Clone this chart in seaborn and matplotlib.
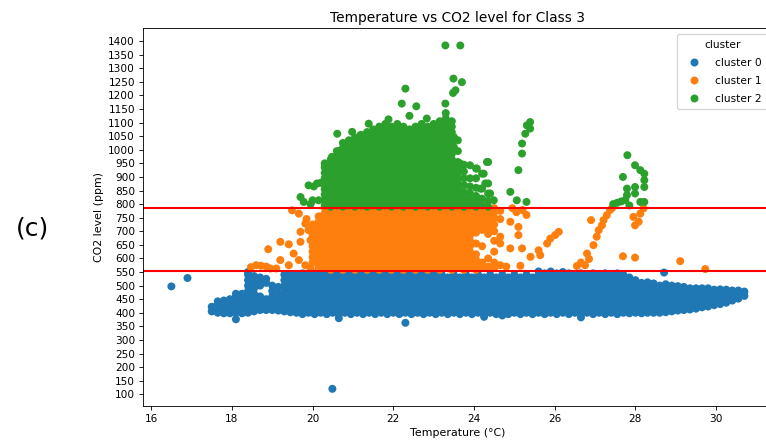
import matplotlib
matplotlib.use("Agg")
import matplotlib.pyplot as plt
import pandas as pd
import seaborn as sns

# Readings grouped by temperature (°C): each key holds the CO2 values (ppm) logged at it.
cluster0_columns = {
    17.50: [405, 422],
    17.65: [400, 415, 432, 442],
    17.80: [398, 420, 445],
    17.95: [398, 412, 430, 450],
    18.10: [376, 400, 420, 440, 460, 470],
    18.25: [398, 410, 430, 450, 470],
    18.40: [400, 420, 440, 460, 480, 500, 520, 540, 550],
    18.55: [405, 430, 450, 470, 490, 510, 535],
    18.70: [410, 420, 440, 460, 500, 520, 530],
    18.85: [410, 430, 450, 510, 525],
    19.00: [410, 420, 440, 460, 480, 500],
    19.15: [408, 430, 450, 470, 495],
    19.30: [405, 420, 440, 460, 480, 500, 520, 540],
    19.45: [402, 410, 430, 450, 470, 490, 510, 530, 542],
    19.60: [400, 420, 440, 460, 480, 500, 520, 540],
    19.75: [395, 410, 430, 450, 470, 490, 510, 530, 545],
    19.90: [400, 420, 440, 460, 480, 500, 520, 540],
    20.05: [395, 410, 430, 450, 470, 490, 510, 530, 545],
    20.20: [400, 420, 440, 460, 480, 500, 520, 540],
    20.35: [395, 410, 430, 450, 470, 490, 510, 530, 545],
    20.50: [400, 420, 440, 460, 480, 500, 520, 540],
    20.65: [380, 395, 410, 430, 450, 470, 490, 510, 530, 545],
    20.80: [400, 420, 440, 460, 480, 500, 520, 540],
    20.95: [395, 410, 430, 450, 470, 490, 510, 530, 545],
    21.10: [400, 420, 440, 460, 480, 500, 520, 540],
    21.25: [395, 410, 430, 450, 470, 490, 510, 530, 545],
    21.40: [400, 420, 440, 460, 480, 500, 520, 540],
    21.55: [395, 410, 430, 450, 470, 490, 510, 530, 545],
    21.70: [400, 420, 440, 460, 480, 500, 520, 540],
    21.85: [395, 410, 430, 450, 470, 490, 510, 530, 545],
    22.00: [400, 420, 440, 460, 480, 500, 520, 540],
    22.15: [395, 410, 430, 450, 470, 490, 510, 530, 545],
    22.30: [363, 400, 420, 440, 460, 480, 500, 520, 540],
    22.45: [395, 410, 430, 450, 470, 490, 510, 530, 545],
    22.60: [400, 420, 440, 460, 480, 500, 520, 540],
    22.75: [395, 410, 430, 450, 470, 490, 510, 530, 545],
    22.90: [400, 420, 440, 460, 480, 500, 520, 540],
    23.05: [395, 410, 430, 450, 470, 490, 510, 530, 545],
    23.20: [400, 420, 440, 460, 480, 500, 520, 540],
    23.35: [395, 410, 430, 450, 470, 490, 510, 530],
    23.50: [400, 420, 440, 460, 480, 500, 520, 540],
    23.65: [395, 410, 430, 450, 470, 490, 510, 530],
    23.80: [400, 420, 440, 460, 480, 500, 520, 540],
    23.95: [395, 410, 430, 450, 470, 490, 510, 530],
    24.10: [400, 420, 440, 460, 480, 500, 520, 540],
    24.25: [385, 395, 410, 430, 450, 470, 490, 510, 530],
    24.40: [400, 420, 440, 460, 480, 500, 520, 540],
    24.55: [395, 410, 430, 450, 470, 490, 510, 530],
    24.70: [390, 400, 420, 440, 460, 480, 500, 520, 540],
    24.85: [395, 410, 430, 450, 470, 490, 510, 530],
    25.00: [400, 420, 440, 460, 480, 500, 520, 540],
    25.15: [395, 410, 430, 450, 470, 490, 510, 530],
    25.30: [400, 420, 440, 460, 480, 500, 520, 540],
    25.45: [395, 410, 430, 450, 470, 490, 510, 530],
    25.60: [400, 420, 440, 460, 480, 500, 520, 540, 552],
    25.75: [395, 410, 430, 450, 470, 490, 510, 530, 545],
    25.90: [400, 420, 440, 460, 480, 500, 520, 540, 552],
    26.05: [395, 410, 430, 450, 470, 490, 510, 530, 545],
    26.20: [400, 420, 440, 460, 480, 500, 520, 540, 550],
    26.35: [395, 410, 430, 450, 470, 490, 510, 530, 545],
    26.50: [400, 420, 440, 460, 480, 500, 520, 540],
    26.65: [383, 395, 410, 430, 450, 470, 490, 510, 530, 545],
    26.80: [400, 420, 440, 460, 480, 500, 520, 540],
    26.95: [395, 410, 430, 450, 470, 490, 510, 530, 545],
    27.10: [400, 420, 440, 460, 480, 500, 520, 540],
    27.25: [395, 410, 430, 450, 470, 490, 510, 530, 545],
    27.40: [400, 420, 440, 460, 480, 500, 520, 540],
    27.55: [395, 410, 430, 450, 470, 490, 510, 530, 545],
    27.70: [400, 420, 440, 460, 480, 500, 520, 540],
    27.85: [398, 410, 430, 450, 470, 490, 510, 530],
    28.00: [400, 420, 440, 460, 480, 500, 520],
    28.15: [398, 410, 430, 450, 470, 490, 510],
    28.30: [400, 420, 440, 460, 480, 500, 512],
    28.45: [400, 410, 430, 450, 470, 490, 508],
    28.60: [400, 420, 440, 460, 480, 500],
    28.75: [402, 410, 430, 450, 470, 490, 505],
    28.90: [405, 420, 440, 460, 480, 500],
    29.05: [408, 430, 450, 470, 490, 498],
    29.20: [410, 420, 440, 460, 480, 495],
    29.35: [412, 430, 450, 470, 490],
    29.50: [415, 430, 450, 470, 490],
    29.65: [420, 440, 460, 480, 490],
    29.80: [423, 440, 460, 480, 490],
    29.95: [428, 445, 465, 485],
    30.10: [432, 450, 470, 486],
    30.25: [437, 455, 470, 485],
    30.40: [445, 465, 482],
    30.55: [452, 468, 482],
    30.70: [462, 478],
}
cluster0_points = [(16.5, 497), (16.9, 528), (20.49, 120), (28.71, 548)]

cluster1_columns = {
    20.00: [585, 605, 625, 645, 665, 685, 705, 725],
    20.15: [565, 575, 595, 615, 635, 655, 675, 695, 715, 735, 755],
    20.30: [565, 585, 605, 625, 645, 665, 685, 705, 725, 745, 765, 785],
    20.45: [558, 575, 595, 615, 635, 655, 675, 695, 715, 735, 755, 775],
    20.60: [565, 585, 605, 625, 645, 665, 685, 705, 725, 745, 765, 785],
    20.75: [558, 575, 595, 615, 635, 655, 675, 695, 715, 735, 755, 775],
    20.90: [565, 585, 605, 625, 645, 665, 685, 705, 725, 745, 765, 785],
    21.05: [558, 575, 595, 615, 635, 655, 675, 695, 715, 735, 755, 775],
    21.20: [565, 585, 605, 625, 645, 665, 685, 705, 725, 745, 765, 785],
    21.35: [558, 575, 595, 615, 635, 655, 675, 695, 715, 735, 755, 775],
    21.50: [565, 585, 605, 625, 645, 665, 685, 705, 725, 745, 765, 785],
    21.65: [558, 575, 595, 615, 635, 655, 675, 695, 715, 735, 755, 775],
    21.80: [565, 585, 605, 625, 645, 665, 685, 705, 725, 745, 765, 785],
    21.95: [558, 575, 595, 615, 635, 655, 675, 695, 715, 735, 755, 775],
    22.10: [565, 585, 605, 625, 645, 665, 685, 705, 725, 745, 765, 785],
    22.25: [558, 575, 595, 615, 635, 655, 675, 695, 715, 735, 755, 775],
    22.40: [565, 585, 605, 625, 645, 665, 685, 705, 725, 745, 765, 785],
    22.55: [558, 575, 595, 615, 635, 655, 675, 695, 715, 735, 755, 775],
    22.70: [565, 585, 605, 625, 645, 665, 685, 705, 725, 745, 765, 785],
    22.85: [558, 575, 595, 615, 635, 655, 675, 695, 715, 735, 755, 775],
    23.00: [565, 585, 605, 625, 645, 665, 685, 705, 725, 745, 765, 785],
    23.15: [558, 575, 595, 615, 635, 655, 675, 695, 715, 735, 755, 775],
    23.30: [565, 585, 605, 625, 645, 665, 685, 705, 725, 745, 765, 785],
    23.45: [558, 575, 595, 615, 635, 655, 675, 695, 715, 735, 755, 775],
    23.60: [565, 585, 605, 625, 645, 665, 685, 705, 725, 745, 765, 785],
    23.75: [558, 575, 595, 615, 635, 655, 675, 695, 715, 735, 755, 775],
    23.90: [565, 585, 605, 625, 645, 665, 685, 705, 725, 745, 765, 785],
    24.05: [558, 575, 595, 615, 655, 695, 715, 735, 755, 775],
    24.20: [565, 585, 645, 705, 725, 745, 765, 785],
    24.35: [570, 600, 690, 715, 735, 760, 780],
    24.50: [565, 585, 625, 665, 700, 725, 750, 770, 785],
    24.65: [575, 655, 680, 745, 775],
}
cluster1_points = [
    (18.47, 568), (18.60, 575), (18.72, 573), (18.85, 570), (18.95, 563),
    (18.90, 634), (19.10, 563), (19.20, 594), (19.20, 661), (19.41, 652),
    (19.41, 575), (19.49, 777), (19.53, 618), (19.66, 765), (19.66, 594),
    (19.70, 698), (19.70, 661), (19.82, 728), (19.82, 575), (19.90, 704),
    (19.95, 667), (19.95, 565), (19.85, 745),
    (24.80, 570), (24.90, 637), (24.90, 735), (24.95, 785), (25.05, 770),
    (25.10, 716), (25.10, 686), (25.15, 573), (25.19, 637), (25.20, 778),
    (25.30, 760), (25.40, 606), (25.60, 630), (25.64, 612), (25.81, 655),
    (25.89, 673), (26.01, 686), (26.10, 698), (26.55, 572), (26.65, 585),
    (26.75, 575), (26.80, 618), (26.85, 598), (26.90, 741), (26.96, 649),
    (27.04, 680), (27.09, 704), (27.17, 722), (27.21, 741), (27.29, 759),
    (27.37, 778), (27.42, 785), (27.69, 608), (27.99, 603), (27.95, 753),
    (27.99, 722), (28.08, 735), (28.12, 765), (28.20, 784), (29.11, 590),
    (29.73, 561),
]

cluster2_columns = {
    20.30: [795, 815, 835, 855, 875, 895, 915, 935, 950],
    20.45: [790, 805, 825, 845, 865, 885, 905, 925, 945, 965],
    20.60: [795, 815, 835, 855, 875, 895, 915, 935, 955, 975, 995],
    20.75: [790, 805, 825, 845, 865, 885, 905, 925, 945, 965, 985, 1005, 1025],
    20.90: [795, 815, 835, 855, 875, 895, 915, 935, 955, 975, 995, 1015, 1035],
    21.05: [790, 805, 825, 845, 865, 885, 905, 925, 945, 965, 985, 1005, 1025, 1045],
    21.20: [795, 815, 835, 855, 875, 895, 915, 935, 955, 975, 995, 1015, 1035, 1055],
    21.35: [790, 805, 825, 845, 865, 885, 905, 925, 945, 965, 985, 1005, 1025, 1045, 1065],
    21.50: [795, 815, 835, 855, 875, 895, 915, 935, 955, 975, 995, 1015, 1035, 1055, 1075],
    21.65: [790, 805, 825, 845, 865, 885, 905, 925, 945, 965, 985, 1005, 1025, 1045, 1065, 1085],
    21.80: [795, 815, 835, 855, 875, 895, 915, 935, 955, 975, 995, 1015, 1035, 1055, 1075, 1095],
    21.95: [790, 805, 825, 845, 865, 885, 905, 925, 945, 965, 985, 1005, 1025, 1045, 1065, 1085],
    22.10: [795, 815, 835, 855, 875, 895, 915, 935, 955, 975, 995, 1015, 1035, 1055, 1075, 1095],
    22.25: [790, 805, 825, 845, 865, 885, 905, 925, 945, 965, 985, 1005, 1025, 1045, 1065, 1085],
    22.40: [795, 815, 835, 855, 875, 895, 915, 935, 955, 975, 995, 1015, 1035, 1055, 1075],
    22.55: [790, 805, 825, 845, 865, 885, 905, 925, 945, 965, 985, 1005, 1025, 1045, 1065, 1085],
    22.70: [795, 815, 835, 855, 875, 895, 915, 935, 955, 975, 995, 1015, 1035, 1055, 1075, 1095],
    22.85: [790, 805, 825, 845, 865, 885, 905, 925, 945, 965, 985, 1005, 1025, 1045, 1065, 1085],
    23.00: [795, 815, 835, 855, 875, 895, 915, 935, 955, 975, 995, 1015, 1035, 1055, 1075, 1095],
    23.15: [790, 805, 825, 845, 865, 885, 905, 925, 945, 965, 985, 1005, 1025, 1045, 1065, 1085, 1105],
    23.30: [795, 815, 835, 855, 875, 895, 915, 935, 955, 975, 995, 1015, 1035, 1055, 1075, 1095, 1115, 1135],
    23.45: [790, 805, 825, 845, 865, 885, 905, 925, 945, 965, 985, 1005, 1025, 1045, 1065, 1085, 1105],
    23.60: [795, 815, 835, 855, 875, 895, 915, 935, 955, 995, 1035],
    23.75: [790, 805, 825, 845, 870, 895, 920, 945],
    23.90: [795, 815, 840, 865, 895, 943],
    24.05: [790, 810, 830, 860, 895, 931],
    24.20: [795, 820, 857, 912],
    24.35: [790, 812, 839, 876, 955],
}
cluster2_points = [
    (19.70, 826), (19.78, 808), (19.90, 869), (20.03, 865), (20.11, 876),
    (20.20, 878), (20.00, 814), (20.15, 814), (19.95, 800), (20.40, 925),
    (20.48, 974), (20.61, 1059), (20.69, 998), (20.98, 1066), (21.18, 1053),
    (21.39, 1096), (21.88, 1112), (22.21, 1170), (22.30, 1225), (22.57, 1160),
    (22.40, 1125), (22.83, 1115), (23.29, 1170), (23.29, 1384), (23.66, 1384),
    (23.49, 1262), (23.70, 1249), (23.54, 1219), (23.48, 1209), (23.50, 1047),
    (23.50, 1010), (23.66, 949), (24.07, 931), (24.24, 912), (24.32, 955),
    (24.28, 876), (24.40, 839), (24.49, 814), (24.16, 857), (24.90, 845),
    (25.06, 814), (25.30, 808), (25.10, 925), (25.19, 986), (25.19, 1023),
    (25.27, 1059), (25.31, 1090), (25.39, 1102), (25.39, 1078), (27.80, 980),
    (27.99, 943), (28.12, 925), (28.22, 912), (28.22, 888), (28.22, 863),
    (27.69, 900), (27.79, 857), (27.79, 833), (27.99, 863), (27.99, 839),
    (28.12, 808), (28.22, 808), (27.45, 800), (27.55, 805), (27.65, 810),
    (27.75, 815), (27.85, 795),
]

cluster_labels = ["cluster 0", "cluster 1", "cluster 2"]
cluster_colors = ["#1f77b4", "#ff7f0e", "#2ca02c"]
co2_thresholds = [553, 787]
co2_ticks = list(range(100, 1401, 50))

rows = []
for label, columns, points in zip(
    cluster_labels,
    [cluster0_columns, cluster1_columns, cluster2_columns],
    [cluster0_points, cluster1_points, cluster2_points],
):
    for temp, values in columns.items():
        rows.extend((temp, v, label) for v in values)
    rows.extend((temp, v, label) for temp, v in points)
df = pd.DataFrame(rows, columns=["Temperature", "CO2", "cluster"])

plt.rcParams.update({
    "font.family": ["DejaVu Sans"],
    "font.size": 7.7,
    "axes.titlesize": 9.9,
    "axes.labelsize": 7.9,
    "axes.labelpad": 3.1,
    "axes.linewidth": 0.62,
    "xtick.labelsize": 7.6,
    "ytick.labelsize": 7.6,
    "xtick.major.size": 2.8,
    "ytick.major.size": 2.8,
    "xtick.major.width": 0.62,
    "ytick.major.width": 0.62,
    "xtick.major.pad": 2.7,
    "ytick.major.pad": 2.7,
    "legend.fontsize": 7.7,
    "legend.title_fontsize": 7.7,
})

fig = plt.figure(figsize=(7.66, 4.46), dpi=100)
ax = fig.add_axes([0.1863, 0.0897, 0.8229, 0.8469])

sns.scatterplot(
    data=df, x="Temperature", y="CO2", hue="cluster",
    hue_order=cluster_labels, palette=cluster_colors,
    s=33, linewidth=0, ax=ax,
)
# keep marker centres at sub-pixel positions so packed points overlap evenly
for coll in ax.collections:
    coll.set_snap(False)

for level in co2_thresholds:
    ax.axhline(level, color="red", linewidth=1.5)

ax.set_yticks(co2_ticks)
ax.set_title("Temperature vs CO2 level for Class 3", pad=4.6)
ax.set_xlabel("Temperature (°C)")
ax.set_ylabel("CO2 level (ppm)")
sns.move_legend(ax, "upper right", title="cluster", labelspacing=0.75,
                borderpad=0.55, handletextpad=1.0)

fig.text(33 / 766, 1 - 228 / 446, "(c)", fontsize=18, ha="center", va="center")

fig.savefig("out.png", dpi=100)
